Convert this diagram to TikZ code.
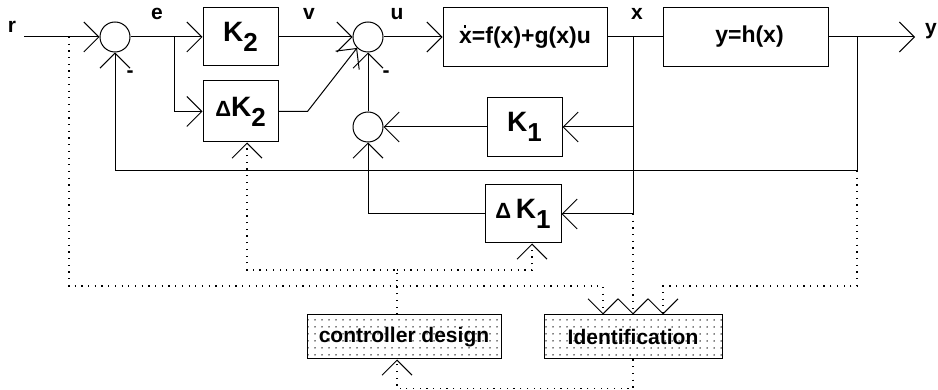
\documentclass[tikz,border=0pt]{standalone}
\usepackage{fontspec}
\setmainfont{Liberation Sans}
\usetikzlibrary{arrows.meta,patterns.meta,calc}
\newcommand\lowsub[1]{\raisebox{-10pt}{\fontsize{26}{26}\selectfont #1}}
\newcommand\dotx{\makebox[0pt][l]{\hspace{4.5pt}\raisebox{16pt}{\rule{2.8pt}{2.8pt}}}x}
\begin{document}
\begin{tikzpicture}[x=1pt,y=-1pt,line width=1pt,
  blk/.style={draw,rectangle,inner sep=0pt,font=\fontsize{28}{28}\bfseries\selectfont},
  sumnode/.style={draw,circle,minimum size=30pt,inner sep=0pt},
  tool/.style={draw,rectangle,inner sep=0pt,minimum height=44pt,
    pattern={Dots[distance=7pt,radius=0.75pt]},
    font=\fontsize{21}{21}\bfseries\selectfont},
  lbl/.style={font=\fontsize{21}{21}\bfseries\selectfont,inner sep=0pt},
  arr/.style={-{Straight Barb[length=15pt,width=30pt,line width=1pt]}},
  dline/.style={line width=1.2pt,dash pattern=on 1.2pt off 5.5pt},
]
\useasboundingbox (0,0) rectangle (938,390);

% blocks
\node[blk,minimum width=75pt,minimum height=58pt] (k2) at (240.5,37) {K\lowsub{2}};
\node[blk,minimum width=75pt,minimum height=61pt] (dk2) at (240.5,111.5) {{\fontsize{22}{22}\selectfont Δ}K\lowsub{2}};
\node[blk,minimum width=164pt,minimum height=59pt,font=\fontsize{23}{23}\bfseries\selectfont] (plant) at (525,37) {\dotx=f(x)+g(x)u};
\node[blk,minimum width=165pt,minimum height=59pt,font=\fontsize{23}{23}\bfseries\selectfont] (hx) at (745.5,37) {\hspace{8pt}y=h(x)};
\node[blk,minimum width=75pt,minimum height=59pt] (k1) at (524.5,127) {K\lowsub{1}};
\node[blk,minimum width=76pt,minimum height=58pt] (dk1) at (523,214) {{\fontsize{22}{22}\selectfont Δ}\,K\lowsub{1}};

% summing junctions
\node[sumnode] (s1) at (115,37) {};
\node[sumnode] (s2) at (368,37) {};
\node[sumnode] (s3) at (368,127) {};

% tool boxes
\node[tool,minimum width=194pt] (ctrl) at (404,337) {controller design};
\node[tool,minimum width=178pt] (ident) at (633,337) {Identification};

% labels
\node[lbl,anchor=base] (lr) at (12,33) {r};
\node[lbl,anchor=base] (le) at (157,20) {e};
\node[lbl,anchor=base] (lv) at (309,20) {v};
\node[lbl,anchor=base] (lu) at (397,20) {u};
\node[lbl,anchor=base] (lx) at (637,20) {x};
\node[lbl,anchor=base] (ly) at (931,35) {y};
\node[lbl] (m1) at (130,74) {-};
\node[lbl] (m2) at (386,74) {-};

% junction coordinates
\coordinate (rin) at (24,37);
\coordinate (jr) at (69,37);
\coordinate (je) at (174,37);
\coordinate (jx) at (633,37);
\coordinate (jy) at (857,37);
\coordinate (yout) at (915,37);
\coordinate (fb) at (857,171);
\coordinate (dx) at (633,214);
\coordinate (cd) at (397,270);

% solid connectors
\draw[arr] (rin) -- (s1);
\draw[arr] (s1) -- (k2);
\draw[arr] (je) |- (dk2);
\draw[arr] (k2) -- (s2);
\draw[arr] (dk2.east) -- ++(29,0) -- (s2.south west);
\draw[arr] (s2) -- (plant);
\draw (plant) -- (hx);
\draw[arr] (hx) -- (yout);
\draw[arr] (jy) -- (fb) -| (s1.south);
\draw[arr] (s3) -- (s2);
\draw[arr] (jx) |- (k1);
\draw[arr] (jx) |- (dk1);
\draw[arr] (k1) -- (s3);
\draw[arr] (dk1) -| (s3);

% dotted connectors
\draw[dline,arr] (jr) -- (69,286) -| ($(ident.north)+(-30,0)$);
\draw[dline,arr] (fb) -- (857,286) -| ($(ident.north)+(30,0)$);
\draw[dline,arr] (dx) -- (ident);
\draw[dline,arr] ($(ctrl.north)+(-7,0)$) -- (cd) -| ($(dk2.south)+(6.5,0)$);
\draw[dline,arr] (cd) -| ($(dk1.south)+(9,0)$);
\draw[dline,arr] (ident.south) -- ++(0,29) -| ($(ctrl.south)+(-7,0)$);
\end{tikzpicture}
\end{document}
